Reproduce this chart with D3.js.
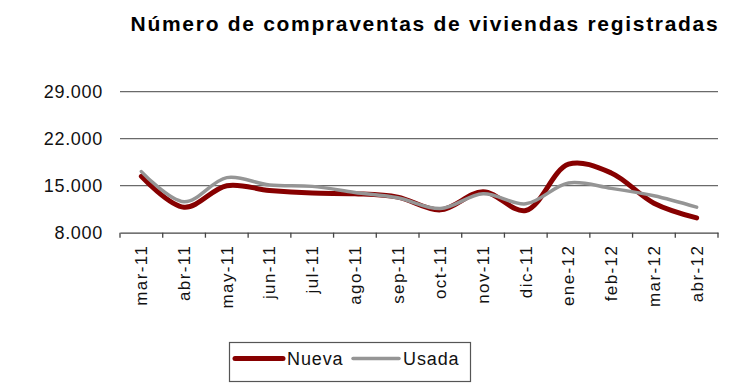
<!DOCTYPE html>
<html>
<head>
<meta charset="utf-8">
<script src="https://cdn.jsdelivr.net/npm/d3@7"></script>
<style>
  body { margin: 0; background: #fff; }
  p { margin: 0; }
  svg { display: block; font-family: "Liberation Sans", Arial, sans-serif; }
</style>
</head>
<body>
<p></p>
<script>
var months = ["mar-11", "abr-11", "may-11", "jun-11", "jul-11", "ago-11", "sep-11",
              "oct-11", "nov-11", "dic-11", "ene-12", "feb-12", "mar-12", "abr-12"];
var nueva = [16400, 11800, 15000, 14300, 13900, 13800, 13300, 11400, 14100, 11300, 18200, 16900, 12400, 10200];
var usada = [17100, 12600, 16200, 15100, 14900, 14000, 13200, 11600, 13800, 12300, 15400, 14600, 13500, 11800];
var yTicks = [8000, 15000, 22000, 29000];
var seriesNames = ["Nueva", "Usada"];
var seriesColors = ["#870000", "#959595"];

var w = 740, h = 389;

var svg = d3.select("p")
            .append("svg")
            .attr("width", w)
            .attr("height", h);

var x = d3.scaleBand().domain(months).range([120, 718]).padding(0);
var y = d3.scaleLinear().domain([8000, 29000]).range([232.7, 91.7]);

var es = d3.formatLocale({decimal: ",", thousands: ".", grouping: [3], currency: ["", " €"]});
var fmt = es.format(",.0f");

// title
svg.append("text")
   .attr("x", 425)
   .attr("y", 31)
   .attr("text-anchor", "middle")
   .style("font-size", "21px")
   .style("font-weight", "bold")
   .style("letter-spacing", "1.7px")
   .text("Número de compraventas de viviendas registradas");

// gridlines
svg.selectAll("line.grid")
   .data(yTicks.slice(1))
   .enter()
   .append("line")
   .attr("class", "grid")
   .attr("x1", 120)
   .attr("x2", 718)
   .attr("y1", function(d) { return y(d); })
   .attr("y2", function(d) { return y(d); })
   .attr("stroke", "#6a6a6a")
   .attr("stroke-width", 1.3);

// y labels
svg.selectAll("text.ylab")
   .data(yTicks)
   .enter()
   .append("text")
   .attr("class", "ylab")
   .attr("x", 103)
   .attr("y", function(d) { return y(d); })
   .attr("dy", "0.35em")
   .attr("text-anchor", "end")
   .style("font-size", "18px")
   .style("letter-spacing", "0.7px")
   .attr("fill", "#111")
   .text(function(d) { return fmt(d); });

// x axis
var xAxis = d3.axisBottom(x).tickSize(0).tickSizeOuter(0);
var gx = svg.append("g")
   .attr("transform", "translate(0," + y(8000) + ")")
   .call(xAxis);
gx.select(".domain").attr("stroke", "#444").attr("stroke-width", 1.3);
gx.selectAll(".tick text")
  .attr("transform", "rotate(-90)")
  .attr("x", -12)
  .attr("y", 0)
  .attr("dy", "0.35em")
  .attr("text-anchor", "end")
  .style("font-size", "17px")
  .style("letter-spacing", "1.4px")
  .attr("fill", "#111")
  .attr("font-family", "Liberation Sans, Arial, sans-serif");

var bounds = months.map(function(m) { return x(m); }).concat([x.range()[1]]);
svg.selectAll("line.tk")
   .data(bounds)
   .enter()
   .append("line")
   .attr("class", "tk")
   .attr("x1", function(d) { return d; })
   .attr("x2", function(d) { return d; })
   .attr("y1", y(8000))
   .attr("y2", y(8000) + 5)
   .attr("stroke", "#444")
   .attr("stroke-width", 1.3);

// lines
var line = d3.line()
    .x(function(d, i) { return x(months[i]) + x.bandwidth() / 2; })
    .y(function(d) { return y(d); })
    .curve(d3.curveCatmullRom.alpha(0.5));

svg.append("path")
   .datum(nueva)
   .attr("d", line)
   .attr("fill", "none")
   .attr("stroke", seriesColors[0])
   .attr("stroke-width", 5)
   .attr("stroke-linecap", "round");

svg.append("path")
   .datum(usada)
   .attr("d", line)
   .attr("fill", "none")
   .attr("stroke", seriesColors[1])
   .attr("stroke-width", 3.5)
   .attr("stroke-linecap", "round");

// legend
svg.append("rect")
   .attr("x", 229.5)
   .attr("y", 342.5)
   .attr("width", 241)
   .attr("height", 39)
   .attr("fill", "#fff")
   .attr("stroke", "#555")
   .attr("stroke-width", 1.2);

var legX = [235, 353];
var legW = [48, 46];
var leg = svg.selectAll("g.leg")
   .data(seriesNames)
   .enter()
   .append("g")
   .attr("class", "leg");

leg.append("line")
   .attr("x1", function(d, i) { return legX[i]; })
   .attr("x2", function(d, i) { return legX[i] + legW[i]; })
   .attr("y1", 358.5)
   .attr("y2", 358.5)
   .attr("stroke", function(d, i) { return seriesColors[i]; })
   .attr("stroke-width", function(d, i) { return i == 0 ? 5 : 3.5; })
   .attr("stroke-linecap", "round");

leg.append("text")
   .attr("x", function(d, i) { return legX[i] + legW[i] + 4; })
   .attr("y", 358.5)
   .attr("dy", "0.35em")
   .style("font-size", "18px")
   .style("letter-spacing", "0.9px")
   .attr("fill", "#111")
   .text(function(d) { return d; });
</script>
</body>
</html>
